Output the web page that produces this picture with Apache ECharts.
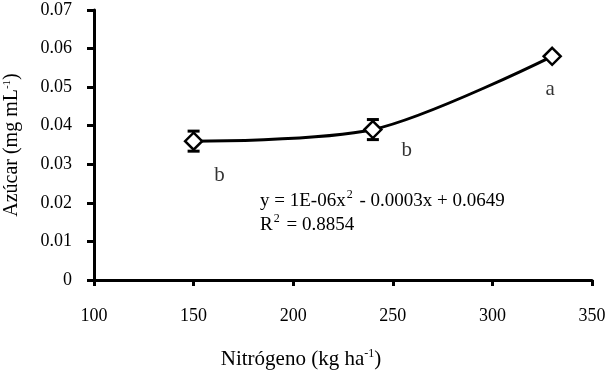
<!DOCTYPE html>
<html>
<head>
<meta charset="utf-8">
<script src="https://cdn.jsdelivr.net/npm/echarts@6/dist/echarts.min.js"></script>
<style>
html, body { margin: 0; padding: 0; background: #fff; }
#chart { width: 611px; height: 372px; }
</style>
</head>
<body>
<div id="chart"></div>
<script>
// datos
var nitrogeno = [150, 240, 330];
var azucar = [0.036, 0.039, 0.058];
var errorEst = [0.0026, 0.0026, 0];
var letras = ['b', 'b', 'a'];
// posición de las letras (en unidades de los ejes)
var letraX = [163, 257, 329];
var letraY = [0.0271, 0.0337, 0.0494];
var xTicks = [100, 150, 200, 250, 300, 350];
var yTicks = [0, 0.01, 0.02, 0.03, 0.04, 0.05, 0.06, 0.07];

var fuente = '"Liberation Serif", "Times New Roman", serif';
var myChart = echarts.init(document.getElementById('chart'));

var puntos = [];
var barras = [];
var etiquetas = [];
for (var i = 0; i < nitrogeno.length; i++) {
	puntos.push([nitrogeno[i], azucar[i]]);
	barras.push([nitrogeno[i], azucar[i] - errorEst[i], azucar[i] + errorEst[i]]);
	etiquetas.push([letraX[i], letraY[i], letras[i]]);
}

var option = {
	backgroundColor: '#ffffff',
	animation: false,
	grid: {
		left: 94,
		right: 19,
		top: 10,
		bottom: 92,
		containLabel: false,
		outerBoundsMode: 'none'
	},
	xAxis: {
		type: 'value',
		min: xTicks[0],
		max: xTicks[xTicks.length - 1],
		interval: 50,
		name: '{n|Nitrógeno (kg ha}{s|-1}{n|)}',
		nameLocation: 'middle',
		nameGap: 68,
		nameTextStyle: {
			padding: [0, 84, 0, 0],
			rich: {
				n: { fontFamily: fuente, fontSize: 21, color: '#000' },
				s: { fontFamily: fuente, fontSize: 12, color: '#000', verticalAlign: 'top', padding: [0, 0, 10, 0] }
			}
		},
		axisLine: { lineStyle: { color: '#000', width: 3 } },
		axisTick: { length: 6, lineStyle: { color: '#000', width: 3 } },
		axisLabel: { margin: 27, fontFamily: fuente, fontSize: 18, color: '#000' },
		splitLine: { show: false }
	},
	yAxis: {
		type: 'value',
		min: yTicks[0],
		max: yTicks[yTicks.length - 1],
		interval: 0.01,
		name: '{n|Azúcar (mg mL}{s|-1}{n|)}',
		nameLocation: 'middle',
		nameGap: 72,
		nameTextStyle: {
			rich: {
				n: { fontFamily: fuente, fontSize: 20, color: '#000' },
				s: { fontFamily: fuente, fontSize: 11, color: '#000', verticalAlign: 'top', padding: [0, 0, 9, 0] }
			}
		},
		axisLine: { show: true, lineStyle: { color: '#000', width: 3 } },
		axisTick: { show: true, length: 7, lineStyle: { color: '#000', width: 3 } },
		axisLabel: {
			margin: 22, fontFamily: fuente, fontSize: 18, color: '#000',
			formatter: function (v) { return v === 0 ? '0' : v.toFixed(2); }
		},
		splitLine: { show: false }
	},
	series: [
		{
			type: 'line',
			data: puntos,
			smooth: 0.3,
			symbol: 'diamond',
			symbolSize: 17,
			itemStyle: { color: '#fff', borderColor: '#000', borderWidth: 2.5 },
			lineStyle: { color: '#000', width: 3 },
			z: 3
		},
		{
			type: 'custom',
			data: barras,
			z: 2,
			renderItem: function (params, api) {
				var x = api.value(0);
				var abajo = api.coord([x, api.value(1)]);
				var arriba = api.coord([x, api.value(2)]);
				if (arriba[1] === abajo[1]) return;
				var m = 6;
				var st = { stroke: '#000', lineWidth: 3 };
				return {
					type: 'group',
					children: [
						{ type: 'line', shape: { x1: abajo[0], y1: abajo[1], x2: arriba[0], y2: arriba[1] }, style: st },
						{ type: 'line', shape: { x1: abajo[0] - m, y1: abajo[1], x2: abajo[0] + m, y2: abajo[1] }, style: st },
						{ type: 'line', shape: { x1: arriba[0] - m, y1: arriba[1], x2: arriba[0] + m, y2: arriba[1] }, style: st }
					]
				};
			}
		},
		{
			type: 'scatter',
			data: etiquetas,
			symbolSize: 0,
			silent: true,
			label: {
				show: true,
				position: 'inside',
				formatter: function (p) { return p.value[2]; },
				fontFamily: fuente,
				fontSize: 21,
				color: '#000'
			}
		}
	],
	graphic: [
		{
			type: 'text',
			left: 260,
			top: 189,
			style: {
				text: '{n|y = 1E-06x}{s|2}{n| - 0.0003x + 0.0649}\n{n|R}{s|2}{n| = 0.8854}',
				rich: {
					n: { fontFamily: fuente, fontSize: 19, color: '#000', lineHeight: 24 },
					s: { fontFamily: fuente, fontSize: 12, color: '#000', verticalAlign: 'top', lineHeight: 24, padding: [0, 2, 8, 1] }
				}
			}
		}
	]
};
myChart.setOption(option);
</script>
</body>
</html>
